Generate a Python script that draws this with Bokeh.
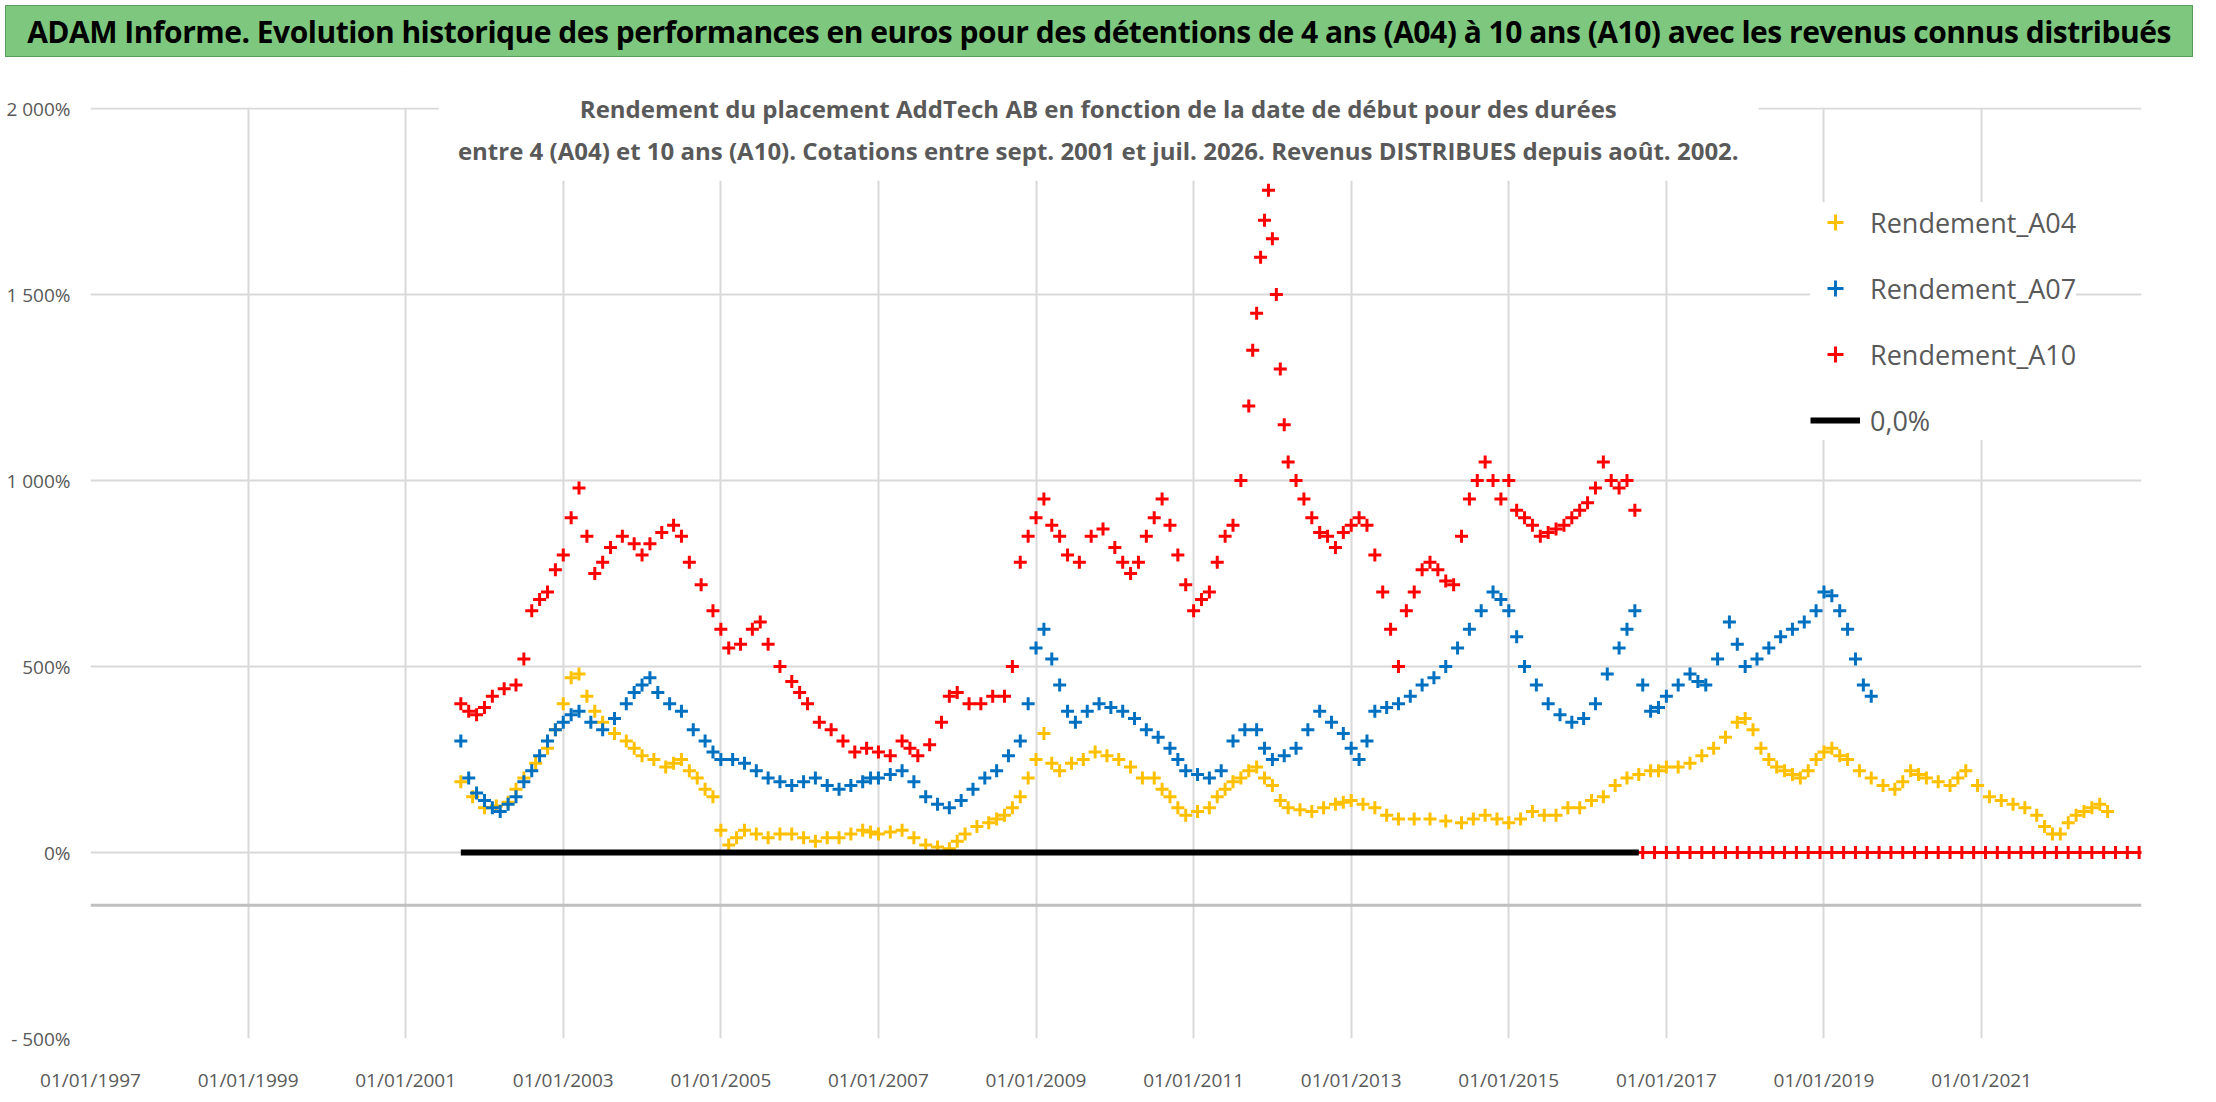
from bokeh.plotting import figure
from bokeh.models import Div, Label, Legend, LegendItem, Span, FixedTicker, Range1d
from bokeh.layouts import column
from bokeh.embed import file_html
from bokeh.resources import INLINE

title_text = "ADAM Informe. Evolution historique des performances en euros pour des détentions de 4 ans (A04) à 10 ans (A10) avec les revenus connus distribués"
subtitle_1 = "Rendement du placement AddTech AB en fonction de la date de début pour des durées"
subtitle_2 = "entre 4 (A04) et 10 ans (A10). Cotations entre sept. 2001 et juil. 2026. Revenus DISTRIBUES depuis août. 2002."

a04_dates = [2001.7, 2001.85, 2002.0, 2002.15, 2002.3, 2002.4, 2002.5, 2002.65, 2002.8, 2002.9, 2003.0, 2003.1, 2003.2, 2003.3, 2003.4, 2003.5,
             2003.65, 2003.8, 2003.9, 2004.0, 2004.15, 2004.3, 2004.4, 2004.5, 2004.6, 2004.7, 2004.8, 2004.9, 2005.0, 2005.1, 2005.2,
             2005.3, 2005.45, 2005.6, 2005.75, 2005.9, 2006.05, 2006.2, 2006.35, 2006.5, 2006.65, 2006.8, 2006.9, 2007.0, 2007.15, 2007.3,
             2007.45, 2007.6, 2007.75, 2007.9, 2008.0, 2008.1, 2008.25, 2008.4, 2008.5, 2008.6, 2008.7, 2008.8, 2008.9, 2009.0, 2009.1,
             2009.2, 2009.3, 2009.45, 2009.6, 2009.75, 2009.9, 2010.05, 2010.2, 2010.35, 2010.5, 2010.6, 2010.7, 2010.8, 2010.9, 2011.05,
             2011.2, 2011.3, 2011.4, 2011.5, 2011.6, 2011.7, 2011.8, 2011.9, 2012.0, 2012.1, 2012.2, 2012.35, 2012.5, 2012.65, 2012.8,
             2012.9, 2013.0, 2013.15, 2013.3, 2013.45, 2013.6, 2013.8, 2014.0, 2014.2, 2014.4, 2014.55, 2014.7, 2014.85, 2015.0, 2015.15,
             2015.3, 2015.45, 2015.6, 2015.75, 2015.9, 2016.05, 2016.2, 2016.35, 2016.5, 2016.65, 2016.8, 2016.9, 2017.0, 2017.15, 2017.3,
             2017.45, 2017.6, 2017.75, 2017.9, 2018.0, 2018.1, 2018.2, 2018.3, 2018.4, 2018.5, 2018.6, 2018.7, 2018.8, 2018.9, 2019.0,
             2019.1, 2019.2, 2019.3, 2019.45, 2019.6, 2019.75, 2019.9, 2020.0, 2020.1, 2020.2, 2020.3, 2020.45, 2020.6, 2020.7, 2020.8,
             2020.95, 2021.1, 2021.25, 2021.4, 2021.55, 2021.7, 2021.8, 2021.9, 2022.0, 2022.1, 2022.2, 2022.3, 2022.4, 2022.5, 2022.6]
a04_values = [190, 150, 120, 125, 135, 170, 200, 240, 280, 330, 400, 470, 480, 420, 380, 350,
              320, 300, 280, 260, 250, 230, 240, 250, 220, 200, 170, 150, 60, 20, 40,
              60, 50, 40, 50, 50, 40, 30, 40, 40, 50, 60, 55, 50, 55, 60,
              40, 20, 15, 10, 30, 50, 70, 80, 90, 100, 120, 150, 200, 250, 320,
              240, 220, 240, 250, 270, 260, 250, 230, 200, 200, 170, 150, 120, 100, 110,
              120, 150, 170, 190, 200, 220, 230, 200, 180, 140, 120, 115, 110, 120, 130,
              135, 140, 130, 120, 100, 90, 90, 90, 85, 80, 90, 100, 90, 80, 90,
              110, 100, 100, 120, 120, 140, 150, 180, 200, 210, 220, 220, 230, 230, 240,
              260, 280, 310, 350, 360, 330, 280, 250, 230, 220, 210, 200, 220, 250, 270,
              280, 260, 250, 220, 200, 180, 170, 190, 220, 210, 200, 190, 180, 200, 220,
              180, 150, 140, 130, 120, 100, 70, 50, 50, 80, 100, 110, 120, 130, 110]

a07_dates = [2001.7, 2001.8, 2001.9, 2002.0, 2002.1, 2002.2, 2002.3, 2002.4, 2002.5, 2002.6, 2002.7, 2002.8, 2002.9, 2003.0, 2003.1,
             2003.2, 2003.35, 2003.5, 2003.65, 2003.8, 2003.9, 2004.0, 2004.1, 2004.2, 2004.35, 2004.5, 2004.65, 2004.8, 2004.9, 2005.0,
             2005.15, 2005.3, 2005.45, 2005.6, 2005.75, 2005.9, 2006.05, 2006.2, 2006.35, 2006.5, 2006.65, 2006.8, 2006.9, 2007.0, 2007.15,
             2007.3, 2007.45, 2007.6, 2007.75, 2007.9, 2008.05, 2008.2, 2008.35, 2008.5, 2008.65, 2008.8, 2008.9, 2009.0, 2009.1, 2009.2,
             2009.3, 2009.4, 2009.5, 2009.65, 2009.8, 2009.95, 2010.1, 2010.25, 2010.4, 2010.55, 2010.7, 2010.8, 2010.9, 2011.05, 2011.2,
             2011.35, 2011.5, 2011.65, 2011.8, 2011.9, 2012.0, 2012.15, 2012.3, 2012.45, 2012.6, 2012.75, 2012.9, 2013.0, 2013.1, 2013.2,
             2013.3, 2013.45, 2013.6, 2013.75, 2013.9, 2014.05, 2014.2, 2014.35, 2014.5, 2014.65, 2014.8, 2014.9, 2015.0, 2015.1, 2015.2,
             2015.35, 2015.5, 2015.65, 2015.8, 2015.95, 2016.1, 2016.25, 2016.4, 2016.5, 2016.6, 2016.7, 2016.8, 2016.9, 2017.0, 2017.15,
             2017.3, 2017.4, 2017.5, 2017.65, 2017.8, 2017.9, 2018.0, 2018.15, 2018.3, 2018.45, 2018.6, 2018.75, 2018.9, 2019.0, 2019.1,
             2019.2, 2019.3, 2019.4, 2019.5, 2019.6]
a07_values = [300, 200, 160, 140, 120, 110, 130, 150, 190, 220, 260, 300, 330, 350, 370,
              380, 350, 330, 360, 400, 430, 450, 470, 430, 400, 380, 330, 300, 270, 250,
              250, 240, 220, 200, 190, 180, 190, 200, 180, 170, 180, 190, 200, 200, 210,
              220, 190, 150, 130, 120, 140, 170, 200, 220, 260, 300, 400, 550, 600, 520,
              450, 380, 350, 380, 400, 390, 380, 360, 330, 310, 280, 250, 220, 210, 200,
              220, 300, 330, 330, 280, 250, 260, 280, 330, 380, 350, 320, 280, 250, 300,
              380, 390, 400, 420, 450, 470, 500, 550, 600, 650, 700, 680, 650, 580, 500,
              450, 400, 370, 350, 360, 400, 480, 550, 600, 650, 450, 380, 390, 420, 450,
              480, 460, 450, 520, 620, 560, 500, 520, 550, 580, 600, 620, 650, 700, 690,
              650, 600, 520, 450, 420]

a10_dates = [2001.7, 2001.8, 2001.9, 2002.0, 2002.1, 2002.25, 2002.4, 2002.5, 2002.6, 2002.7, 2002.8, 2002.9, 2003.0, 2003.1, 2003.2,
             2003.3, 2003.4, 2003.5, 2003.6, 2003.75, 2003.9, 2004.0, 2004.1, 2004.25, 2004.4, 2004.5, 2004.6, 2004.75, 2004.9, 2005.0,
             2005.1, 2005.25, 2005.4, 2005.5, 2005.6, 2005.75, 2005.9, 2006.0, 2006.1, 2006.25, 2006.4, 2006.55, 2006.7, 2006.85, 2007.0,
             2007.15, 2007.3, 2007.4, 2007.5, 2007.65, 2007.8, 2007.9, 2008.0, 2008.15, 2008.3, 2008.45, 2008.6, 2008.7, 2008.8, 2008.9,
             2009.0, 2009.1, 2009.2, 2009.3, 2009.4, 2009.55, 2009.7, 2009.85, 2010.0, 2010.1, 2010.2, 2010.3, 2010.4, 2010.5, 2010.6,
             2010.7, 2010.8, 2010.9, 2011.0, 2011.1, 2011.2, 2011.3, 2011.4, 2011.5, 2011.6, 2011.7, 2011.75, 2011.8, 2011.85, 2011.9,
             2011.95, 2012.0, 2012.05, 2012.1, 2012.15, 2012.2, 2012.3, 2012.4, 2012.5, 2012.6, 2012.7, 2012.8, 2012.9, 2013.0, 2013.1,
             2013.2, 2013.3, 2013.4, 2013.5, 2013.6, 2013.7, 2013.8, 2013.9, 2014.0, 2014.1, 2014.2, 2014.3, 2014.4, 2014.5, 2014.6,
             2014.7, 2014.8, 2014.9, 2015.0, 2015.1, 2015.2, 2015.3, 2015.4, 2015.5, 2015.6, 2015.7, 2015.8, 2015.9, 2016.0, 2016.1,
             2016.2, 2016.3, 2016.4, 2016.5, 2016.6]
a10_values = [400, 380, 370, 390, 420, 440, 450, 520, 650, 680, 700, 760, 800, 900, 980,
              850, 750, 780, 820, 850, 830, 800, 830, 860, 880, 850, 780, 720, 650, 600,
              550, 560, 600, 620, 560, 500, 460, 430, 400, 350, 330, 300, 270, 280, 270,
              260, 300, 280, 260, 290, 350, 420, 430, 400, 400, 420, 420, 500, 780, 850,
              900, 950, 880, 850, 800, 780, 850, 870, 820, 780, 750, 780, 850, 900, 950,
              880, 800, 720, 650, 680, 700, 780, 850, 880, 1000, 1200, 1350, 1450, 1600, 1700,
              1780, 1650, 1500, 1300, 1150, 1050, 1000, 950, 900, 860, 850, 820, 860, 880, 900,
              880, 800, 700, 600, 500, 650, 700, 760, 780, 760, 730, 720, 850, 950, 1000,
              1050, 1000, 950, 1000, 920, 900, 880, 850, 860, 870, 880, 900, 920, 940, 980,
              1050, 1000, 980, 1000, 920]
a10_zero_dates = [2016.7, 2016.85, 2017.0, 2017.15, 2017.3, 2017.45, 2017.6, 2017.75, 2017.9, 2018.05, 2018.2, 2018.35, 2018.5,
                  2018.65, 2018.8, 2018.95, 2019.1, 2019.25, 2019.4, 2019.55, 2019.7, 2019.85, 2020.0, 2020.15, 2020.3, 2020.45,
                  2020.6, 2020.75, 2020.9, 2021.05, 2021.2, 2021.35, 2021.5, 2021.65, 2021.8, 2021.95, 2022.1, 2022.25, 2022.4,
                  2022.55, 2022.7, 2022.85, 2023.0]
a10_zero_values = [0] * len(a10_zero_dates)

zero_line_dates = [2001.7, 2016.65]
zero_line_values = [0, 0]

x_ticks = [1997, 1999, 2001, 2003, 2005, 2007, 2009, 2011, 2013, 2015, 2017, 2019, 2021]
x_tick_labels = ["01/01/%d" % y for y in x_ticks]
y_ticks = [-500, 0, 500, 1000, 1500, 2000]
y_tick_labels = ["- 500%", "0%", "500%", "1 000%", "1 500%", "2 000%"]

FONT = "Open Sans"
GREY = "#595959"

div = Div(text='<div style="width:2188px;height:52px;background:#7DC87E;border:1px solid #5a9a5a;'
               'font-family:\'Open Sans\';font-weight:bold;font-size:30px;color:#000;'
               'text-align:center;line-height:52px;white-space:nowrap;letter-spacing:-0.5px">' + title_text + '</div>',
          width=2200, height=56)

p = figure(width=2200, height=1030, output_backend="svg", toolbar_location=None,
           x_range=Range1d(1997, 2023.03), y_range=Range1d(-500, 2113),
           min_border_left=90, min_border_right=59, min_border_top=0, min_border_bottom=58)
p.outline_line_color = None
p.xaxis.ticker = FixedTicker(ticks=x_ticks)
p.yaxis.ticker = FixedTicker(ticks=y_ticks)
p.xaxis.major_label_overrides = dict(zip(x_ticks, x_tick_labels))
p.yaxis.major_label_overrides = dict(zip(y_ticks, y_tick_labels))
for ax in (p.xaxis[0], p.yaxis[0]):
    ax.axis_line_color = None
    ax.major_tick_line_color = None
    ax.minor_tick_line_color = None
    ax.major_label_text_font = FONT
    ax.major_label_text_font_size = "19px"
    ax.major_label_text_color = GREY
p.xaxis.major_label_standoff = 22
p.yaxis.major_label_standoff = 14
p.xgrid.grid_line_color = "#D9D9D9"
p.ygrid.grid_line_color = "#D9D9D9"
p.xgrid.grid_line_width = 2
p.ygrid.grid_line_width = 2
p.add_layout(Span(location=-142, dimension="width", line_color="#BFBFBF", line_width=3))

# white band above the 2 000% line, and white box behind the subtitle
p.quad(left=1997, right=2023.03, bottom=2003, top=2113, fill_color="white", line_color=None)
p.quad(left=2001.42, right=2018.17, bottom=1806, top=2113, fill_color="white", line_color=None)

r04 = p.scatter(a04_dates, a04_values, marker="cross", size=13, line_width=3, color="#FFC000")
r07 = p.scatter(a07_dates, a07_values, marker="cross", size=13, line_width=3, color="#0070C0")
r10 = p.scatter(a10_dates, a10_values, marker="cross", size=13, line_width=3, color="#FF0000")
p.scatter(a10_zero_dates, a10_zero_values, marker="cross", size=13, line_width=3, color="#FF0000")
r0 = p.line(zero_line_dates, zero_line_values, line_color="black", line_width=6)

for txt, yv in ((subtitle_1, 2000), (subtitle_2, 1887)):
    p.add_layout(Label(x=2009.79, y=yv, text=txt, text_align="center", text_baseline="middle",
                       text_font=FONT, text_font_size="24px", text_font_style="bold", text_color=GREY))

legend = Legend(items=[LegendItem(label="Rendement_A04", renderers=[r04]),
                       LegendItem(label="Rendement_A07", renderers=[r07]),
                       LegendItem(label="Rendement_A10", renderers=[r10]),
                       LegendItem(label="0,0%", renderers=[r0])],
                location=(1720, 598), label_text_font=FONT, label_text_font_size="27px",
                label_text_color=GREY, border_line_color=None, background_fill_color="white",
                background_fill_alpha=1, spacing=26, glyph_width=50, glyph_height=40, label_height=40,
                label_standoff=10, padding=12)
p.add_layout(legend, "center")

open("out.html", "w").write(file_html(column(div, p, spacing=0), INLINE))
